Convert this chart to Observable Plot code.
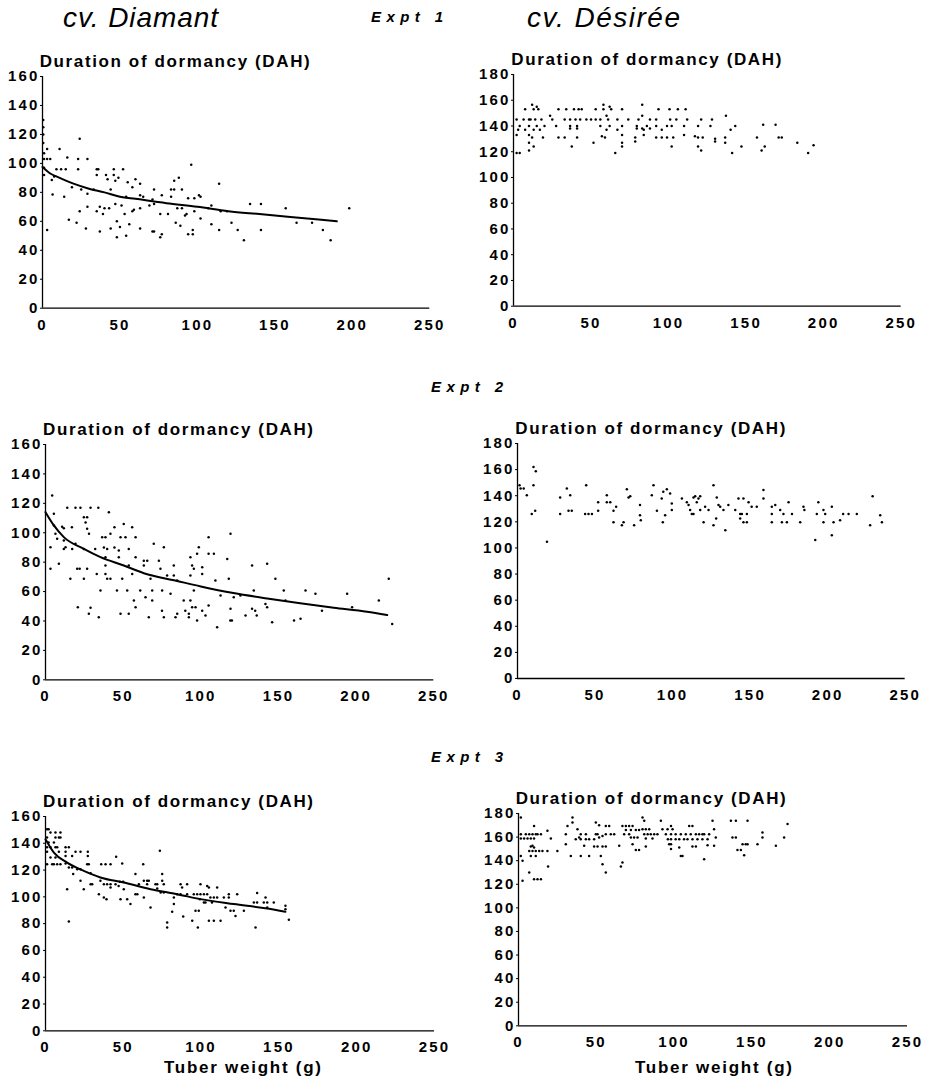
<!DOCTYPE html>
<html>
<head>
<meta charset="utf-8">
<script src="https://cdn.jsdelivr.net/npm/d3@7"></script>
<script src="https://cdn.jsdelivr.net/npm/@observablehq/plot@0.6"></script>
<style>
  html, body { margin: 0; padding: 0; background: #fff; }
  #root { position: relative; width: 925px; height: 1083px; background: #fff; overflow: hidden; }
  .lbl { position: absolute; line-height: 0; white-space: nowrap; color: #000; }
  .panel { position: absolute; }
</style>
</head>
<body>
<div id="root"></div>
<script>
// ---------------- DATA ----------------
const xTicks = [0, 50, 100, 150, 200, 250];
const yTicks160 = [0, 20, 40, 60, 80, 100, 120, 140, 160];
const yTicks180 = [0, 20, 40, 60, 80, 100, 120, 140, 160, 180];

const cultivars = ["cv. Diamant", "cv. Désirée"];
const experiments = ["Expt 1", "Expt 2", "Expt 3"];
const yTitle = "Duration of dormancy (DAH)";
const xTitle = "Tuber weight (g)";

// Diamant, Expt 1: [tuber weight g, dormancy DAH]
const diamant1 = [[24,117],[1,103],[3,103],[5,103],[3,110],[11,110],[16,104],[23,103],[29,103],[1,97],[9,96],[12,96],[15,96],[1,92],[7.5,91],[23,96],[35,96],[36,96],[35,92],[41,92],[46,96],[52,96],[46,92],[49,90],[47,88],[42,89],[55,87],[58,83.5],[60,89],[63,86],[96,99],[6,88.6],[85,88],[88,90],[83,82],[85,82],[90,82],[114,86],[72,82],[77,78],[101,78],[102,77],[94,76],[98,76],[19,83.5],[25,82],[29,79],[14,77],[6.5,78.5],[44,82],[33,82],[54,77],[63,78],[65,77],[71,75],[72,72],[69,71],[83,77],[37,70],[35,67],[40,69],[43,69],[29,70],[24,67],[47,72],[51,71],[58,67],[59,68],[63,69],[87,69],[90,69],[93,65],[98,67],[107,69],[109,71],[115,67],[119,67],[134,72],[141,72],[157,69],[198,69],[39,65],[53,65],[76,65],[81,65],[92,64],[102,62],[17,61],[22,59],[28,55],[3,54],[37,53],[44,55],[48,60],[50,56],[56,58],[63,55],[71,53],[72,53],[76,49],[77,51],[48,49],[54,50],[86,59],[89,57],[97,54],[97,51],[94,51],[109,58],[114,54],[122,59],[126,54],[130,47],[141,54],[164,59],[174,59],[181,54],[186,47],[0.5,120],[0.5,125],[0.5,130],[1,107],[0.5,114]];
const diamant1Fit = [[0,97.5],[5,93],[10,90.5],[20,86],[30,82.5],[40,80],[50,77],[60,75.5],[80,72.5],[100,70],[120,67],[140,65],[160,63],[180,61],[190,60]];

// Désirée, Expt 1
const desiree1 = [[12,156.5],[15,155],[58,156.5],[62,155],[83,156.5],[7.5,153],[13,153],[16,153],[29,153],[34,153],[39,153],[42,153],[44,153],[53,153],[58,153],[63,153],[70,153],[93.5,153],[100.6,153],[106,153],[111,153],[23.6,148],[60,148],[83,148],[137,148],[2,145],[6.5,145],[10,145],[11,145],[14,145],[18,145],[25,145],[33,145],[36.5,145],[40,145],[43,145],[47,145],[50,145],[53,145],[56,145],[61,145],[67,145],[74,145],[80.6,145],[88,145],[92,145],[101,145],[105,145],[112,145],[121,145],[128,145],[4,140],[10,140],[15,140],[20,140],[27.5,140],[36.5,140],[41,140],[56,140],[62,140],[70,140],[79.5,140],[86,140],[92,140],[99,140],[102,140],[110,140],[119,140],[127,140],[143,140],[161,141],[169,141],[3,137],[7.5,137],[13,137],[17,137],[36.5,138],[41,138],[60,137],[67,137],[79.5,138],[83,138],[84,137],[88,138],[95.6,137],[140,137],[2,133],[10,133],[12,131],[19,131],[29,131],[33,131],[41,131],[57,132],[59,131],[70,133],[78.5,131],[84,133],[92,131],[95.6,131],[99,131],[103,131],[110,133],[117,132],[119,131],[122,131],[130,130],[136.5,131],[157,131],[171,131],[173,131],[10,127],[51.6,127],[70,127],[78.5,128],[130,128],[136.5,127],[183,127],[13,124],[37.6,124],[70,124],[102,124],[119,124],[147,124],[162,124],[193.5,125],[2,119],[4,119],[10,121],[65.6,119],[121,121],[141,119],[160,121],[190,119]];

// Diamant, Expt 2
const diamant2 = [[4.3,125.3],[5.4,112.9],[5.4,105],[10.7,104],[11.8,103],[6.4,99.3],[7.5,95.9],[14,117],[19.3,117],[22.5,117],[29,117],[34,117],[24.7,110.6],[26.8,110.6],[17,103.8],[25.8,107],[26.8,102.7],[28,99.3],[40.8,114],[44.4,103.8],[50.4,106],[41.8,99.3],[36.5,97],[38.6,97],[48.3,97],[51.5,97],[58,97],[55.8,103.8],[11.8,94.7],[12.9,90.2],[19.3,92.5],[3.2,90.2],[11.8,89],[17.2,89],[24.7,89],[32,89],[37.6,90],[39.7,89],[44.4,90],[47.2,88],[53.6,89],[8.6,78.9],[3.2,75.5],[16,68.7],[20.4,75.5],[22,75.5],[24.7,68.7],[26.8,75.5],[27.9,44.9],[29,49],[20.8,49.4],[33,72],[34.3,42.6],[35.4,60.7],[38.6,83.4],[38.6,77.7],[38.6,72],[39.7,68.7],[41.8,68.7],[47.2,83.4],[46,60.7],[48.3,44.9],[49.4,68.7],[52.6,60.7],[53.6,44.9],[53.6,77.7],[55.8,72],[56.9,54],[58,49.4],[58,83.4],[61,60.7],[63.3,81],[63.3,77.7],[65.5,81],[64.4,56.2],[67.6,68.7],[68.7,60.7],[68.7,54],[66.5,42.6],[69.7,92.5],[73,81],[74,75.5],[75.1,60.7],[76.2,90.2],[75,47],[76.2,42.6],[78.3,71],[82.6,77.7],[82.6,71],[80.5,58.5],[83.7,42.6],[84.8,44.9],[84.8,67.5],[89,54],[90,47],[92.3,44.9],[92.3,42.6],[93.3,54],[93.3,83.4],[94.4,77.7],[95.5,75.5],[93.3,71],[95.5,60.7],[94.4,49.4],[96.6,49.4],[97.6,40.3],[98.7,90.2],[97.6,85.7],[100.9,76.6],[100.9,72],[100.9,47],[103,43.7],[105,50.5],[105,97],[105,85.7],[108.4,85.7],[109.4,67.5],[110.5,35.8],[112.7,57.3],[117,82.2],[118,68.7],[119.1,99.3],[119.1,48.3],[119,40.3],[120,40.3],[121.2,56.2],[125.5,57.3],[128.8,43.7],[133,77.7],[134.1,60.7],[133,48.3],[135,47],[136,43.7],[141.6,51.6],[142.7,49.4],[142.7,78.9],[145.9,39.2],[148,68.7],[153.4,60.7],[154.5,54],[160,40.3],[164.2,41.5],[167.4,60.7],[173.8,58.5],[178,47],[194.2,58.5],[197.4,49.4],[214.6,54],[221,68.7],[223.2,38]];
const diamant2Fit = [[0,114],[5.4,105],[11.8,97],[24.7,89],[35.4,83.4],[50.4,77.7],[63.3,72.5],[84.8,67.2],[100,63.5],[121,59],[142.7,55.3],[164,52],[185.6,49],[207,46.3],[220,44]];

// Désirée, Expt 2
const desiree2 = [[1.3,148],[2,145.5],[4,145.5],[10.3,162],[11.8,158.8],[6,140.4],[10.3,148],[9.2,126],[11.4,128.4],[19,104.7],[27.5,138.6],[27.5,126],[31.8,145.5],[34,140.4],[32.9,128.4],[35,128.4],[43.6,126],[45.8,126],[44.3,148],[48,126],[52,135],[52,128.4],[57.6,135],[59.8,135],[57.6,140.4],[61.9,128.4],[61.9,119.7],[63.6,131.5],[67.3,117.4],[68.4,119.7],[70.5,145],[71.6,138.6],[72.7,139.6],[75.2,117.4],[79,132.8],[79,125],[79.5,121.3],[86.6,140.4],[87.7,148],[89.9,128.4],[93,137.9],[94,143],[93.7,119.7],[96.3,145],[95.2,125],[98.4,141.7],[99.5,134],[99.5,129],[106,137.9],[109.2,135],[110.3,132.8],[111.3,129],[112.4,126],[113.5,126],[113.5,138.6],[114.6,139.6],[115.6,135],[116.7,137.9],[117.8,139.6],[117.8,129],[120,119.7],[121,131.5],[123.2,129],[126.4,148],[126.4,117.4],[128.5,138.6],[129.6,132.8],[128.1,122.5],[130.7,131.5],[132.8,129],[134,113.6],[136,132.8],[140.4,129],[142.5,137.9],[143.6,126],[144.7,126],[143.6,122.5],[145.7,137.9],[145.7,119.7],[147.9,119.7],[147.9,126],[149,135],[151,131.5],[154.3,131.5],[158.6,144.3],[158.6,137.9],[164,131.5],[164,126],[164,119.7],[166.2,132.8],[169.4,129],[170.5,119.7],[171.5,126],[174.8,135],[173.7,119.7],[177,126],[182.3,119.7],[184.4,131.5],[185,129],[192,106],[194,135],[193,126],[197.3,129],[197.3,119.7],[198.4,126],[202.7,131.5],[202.7,109.8],[203.8,119.7],[208,121.3],[210,126],[213.5,126],[218.8,126],[227.4,117.4],[229,139.6],[233.9,125],[235,119.7]];

// Diamant, Expt 3
const diamant3 = [[1,150.5],[2,150.5],[3.2,148],[6.4,148],[9.6,148],[6.4,144.3],[8.6,144.3],[9.6,144.3],[1,144.3],[2,140.6],[5.4,140.6],[1,137],[3.2,137],[6.4,137],[7.5,137],[12.9,137],[15,137],[1,133.6],[8.6,133.6],[12.9,133.6],[19.3,133.6],[22.5,133.6],[27.2,133.6],[3.2,129.4],[6.4,129.4],[12.9,130.6],[17.1,130.6],[27.2,130.6],[1,124.4],[4.3,124.4],[5.4,124.4],[7.5,124.4],[9.6,124.4],[12.9,125],[15,122],[17.1,122],[20.4,120.7],[22.5,120.7],[17.8,117],[26.8,124.4],[27.8,124.4],[29,117.7],[35.8,124.4],[38.6,124.4],[41.8,124.4],[45.4,130],[49.3,125],[62.8,124.4],[73.5,134.4],[22.5,112],[24.6,105.7],[29,109.5],[30,109.5],[13.9,105.7],[35.3,112],[37.5,109.5],[39.6,109.5],[41.8,109.5],[34.3,102],[37.5,99.5],[39.2,98.3],[41.8,107],[45,109.5],[47,108.2],[47.8,111.2],[49.9,111.2],[48.2,98.3],[50.3,105.7],[52.5,98.3],[54.6,94.6],[57.8,117],[57.8,102],[59,102],[60,109.5],[63.2,112],[65.3,112],[66.4,112],[63.2,99.5],[65.3,109.5],[67.5,92],[70.7,109.5],[71.8,109.5],[75,117],[75,112],[76,109.5],[74,103.3],[76,103.3],[71.8,106.2],[78.2,80.9],[78.2,77.1],[82.5,99.5],[82.5,94.6],[81.4,88.8],[84.6,102],[86.8,102],[86.8,109.5],[91,109.5],[87.8,107],[88.5,85.3],[91,102],[94.3,82.1],[95.3,102],[97.5,102],[99.6,102],[101.8,102],[103.9,102],[96.4,89.6],[98.5,89.6],[97.9,77.1],[99.6,109.5],[99.2,98.3],[103.9,108.2],[105,107],[101.8,95.8],[102.8,95.8],[105,82.1],[108.2,82.1],[106,99.5],[108.2,99.5],[110.3,99.5],[114.6,99.5],[117.8,99.5],[107,95.8],[110.3,107],[112.5,82.1],[115.7,92],[118.9,89.6],[121,89.6],[117.8,102],[123.2,102],[122.1,85.8],[127.5,89.6],[136,102.8],[133.9,95.8],[136,95.8],[135,77.1],[141.4,99.5],[140.3,95.8],[142.5,95.8],[142.5,92],[146.7,95.8],[154.2,93.3],[154.2,90.8],[156.4,82.9],[15,81.6]];
const diamant3Fit = [[0,143],[5.4,133],[13.9,125.6],[24.6,119.4],[35.3,114.5],[50.3,110.7],[67.5,105.7],[84.6,102],[99.6,98.3],[121,94.6],[142.5,91.3],[154.2,88.8]];

// Désirée, Expt 3
const desiree3 = [[1.5,176.6],[1.5,162.5],[4.7,162.5],[6.9,162.5],[9,162.5],[1.5,158.8],[3.6,158.8],[5.8,158.8],[7.9,158.8],[10,158.8],[11.1,162.5],[12.2,162.5],[14.4,162.5],[10,169.5],[18.6,165.3],[20.8,158.8],[7.9,152],[9,152.6],[10,151.2],[6.9,148.3],[9,148.3],[11.1,148.3],[13.3,148.3],[15.4,148.3],[18.6,148.3],[1.5,144],[2.6,139.9],[7.9,144],[11.1,144],[6.9,130],[10,124.3],[12.2,124.3],[14.4,124.3],[2.6,122.9],[19,135],[25,148.3],[30.4,162.5],[30.4,154],[31.5,169.5],[34.7,176.6],[34.7,172.4],[33.6,144],[37.9,166.7],[39,159.6],[40,162.5],[43.3,162.5],[36.8,158.2],[40,158.2],[43.3,158.2],[45.4,158.2],[48.6,158.2],[42.2,152.6],[40,144],[45.4,144],[49.7,172.4],[51.8,170],[49.7,162.5],[50.8,162.5],[51.8,159.6],[54,161],[48.6,152],[50.8,152],[54,152],[56.1,152],[52.9,144],[54,137],[56.1,130],[56.1,169.5],[58.3,169.5],[56.1,162.5],[59.3,162.5],[61.5,162.5],[64.7,152.6],[65.8,135],[66.8,138.4],[66.8,169.5],[69,169.5],[71.1,169.5],[73.3,169.5],[67.9,162.5],[71.1,162.5],[69,166],[72.2,166],[75.4,166],[77.5,166],[72.2,159.6],[74.3,159.6],[76.5,159.6],[73.3,154],[75.4,149],[77.5,149],[79.7,176.6],[80.8,173.8],[79.7,166.7],[81.8,166.7],[84,166.7],[80.8,162.5],[83,162.5],[85,162.5],[87.2,162.5],[89.3,162.5],[81.8,158.8],[86.1,158.8],[81.8,152],[91.5,173.8],[98,169.5],[92.5,166.7],[95.8,166.7],[99,166.7],[94.7,162.5],[98,162.5],[101,162.5],[104.3,162.5],[107.5,162.5],[110.7,162.5],[114,162.5],[96,158.2],[98,158.2],[101,158.2],[103.3,158.2],[106.4,158.2],[108.6,158.2],[111.8,158.2],[115,158.2],[118.2,158.2],[121.5,158.2],[96.8,154],[98,154],[98,149.8],[103.3,151.2],[104.3,144],[105.4,144],[109.7,169.5],[111.8,169.5],[111.8,152],[114,152],[119.3,141.3],[116.1,162.5],[118.2,162.5],[119.3,162.5],[122.5,162.5],[121.5,153],[124.7,173.8],[125.7,166.7],[126.8,159.6],[125.7,152.6],[136.5,173.8],[139.7,173.8],[137.5,159.6],[139.7,159.6],[140.7,149],[142.9,149],[144,154],[146,154],[145,144.7],[147.2,173.8],[147.2,154],[153.6,154],[156.8,163.9],[156.8,159.6],[165.4,152.6],[170.7,159.6],[172.9,171]];

// ---------------- LAYOUT ----------------
const root = document.getElementById("root");
const sansFont = "'Liberation Sans', Arial, sans-serif";

// text placed by baseline; if width given, letter-spacing is fitted so the text spans that width
function addLabel(text, opts) {
  const d = document.createElement("div");
  d.className = "lbl";
  d.textContent = text;
  const f = opts.size;
  d.style.fontFamily = opts.family || sansFont;
  d.style.fontSize = f + "px";
  d.style.fontStyle = opts.italic ? "italic" : "normal";
  d.style.fontWeight = opts.weight || "normal";
  d.style.letterSpacing = "0px";
  d.style.top = (opts.baseline - 0.346 * f) + "px";
  d.style.left = "0px";
  root.appendChild(d);
  if (opts.width) {
    const w0 = d.getBoundingClientRect().width;
    const n = text.length - 1;
    const ls = (opts.width - w0) / n;
    d.style.letterSpacing = ls + "px";
  }
  const w = d.getBoundingClientRect().width - (opts.width ? parseFloat(d.style.letterSpacing) : 0);
  if (opts.center != null) d.style.left = (opts.center - w / 2) + "px";
  else d.style.left = opts.left + "px";
}

const panels = [
  {x0: 41.7, x250: 429, yTop: 76, y0: 307.7, ymax: 160, ticks: yTicks160, pts: diamant1, fit: diamant1Fit},
  {x0: 513.3, x250: 901, yTop: 74.3, y0: 306, ymax: 180, ticks: yTicks180, pts: desiree1},
  {x0: 45, x250: 433.3, yTop: 444, y0: 679.3, ymax: 160, ticks: yTicks160, pts: diamant2, fit: diamant2Fit},
  {x0: 517.3, x250: 905, yTop: 443.3, y0: 678.3, ymax: 180, ticks: yTicks180, pts: desiree2},
  {x0: 45, x250: 434, yTop: 815.7, y0: 1030, ymax: 160, ticks: yTicks160, pts: diamant3, fit: diamant3Fit},
  {x0: 517.7, x250: 906.7, yTop: 812.7, y0: 1025, ymax: 180, ticks: yTicks180, pts: desiree3}
];

panels.forEach((p) => {
  const ML = 46, MR = 18, MT = 10, MB = 32;
  const width = (p.x250 - p.x0) + ML + MR;
  const height = (p.y0 - p.yTop) + MT + MB;
  const marks = [
    Plot.ruleX([0], {stroke: "black", strokeWidth: 1.3}),
    Plot.ruleY([0], {stroke: "black", strokeWidth: 1.3}),
    Plot.dot(p.pts, {x: d => d[0], y: d => d[1], r: 1.25, fill: "black", stroke: "none"}),
    Plot.axisX({ticks: xTicks, tickSize: 0, tickPadding: 11, label: null, tickFormat: d => d}),
    Plot.axisY({ticks: p.ticks, tickSize: 2, tickPadding: 1, label: null, tickFormat: d => d})
  ];
  if (p.fit) marks.push(Plot.line(p.fit, {x: d => d[0], y: d => d[1], curve: "monotone-x", stroke: "black", strokeWidth: 2}));
  const chart = Plot.plot({
    width, height,
    marginLeft: ML, marginRight: MR, marginTop: MT, marginBottom: MB,
    x: {domain: [0, 250]},
    y: {domain: [0, p.ymax]},
    style: {background: "transparent", color: "black", overflow: "visible"},
    marks
  });
  chart.querySelectorAll("text").forEach(t => {
    t.style.fontFamily = sansFont;
    t.style.fontSize = "15px";
    t.style.fontWeight = "bold";
    t.style.letterSpacing = "2.2px";
    t.style.fill = "black";
  });
  const wrap = document.createElement("div");
  wrap.className = "panel";
  wrap.style.left = (p.x0 - ML) + "px";
  wrap.style.top = (p.yTop - MT) + "px";
  wrap.appendChild(chart);
  root.appendChild(wrap);

  addLabel(yTitle, {size: 17, weight: "bold", width: 270, left: p.x0 - 2, baseline: p.yTop - 8});
});

// titles
addLabel(cultivars[0], {size: 28, italic: true, width: 155, left: 63, baseline: 28});
addLabel(cultivars[1], {size: 28, italic: true, width: 153, left: 527, baseline: 28});
addLabel(experiments[0], {size: 15, italic: true, weight: "bold", width: 72, left: 371, baseline: 22});
addLabel(experiments[1], {size: 15, italic: true, weight: "bold", width: 72, left: 431, baseline: 392});
addLabel(experiments[2], {size: 15, italic: true, weight: "bold", width: 72, left: 431, baseline: 762});
addLabel(xTitle, {size: 17, weight: "bold", width: 157, left: 164, baseline: 1074});
addLabel(xTitle, {size: 17, weight: "bold", width: 157, left: 635, baseline: 1074});
</script>
</body>
</html>
